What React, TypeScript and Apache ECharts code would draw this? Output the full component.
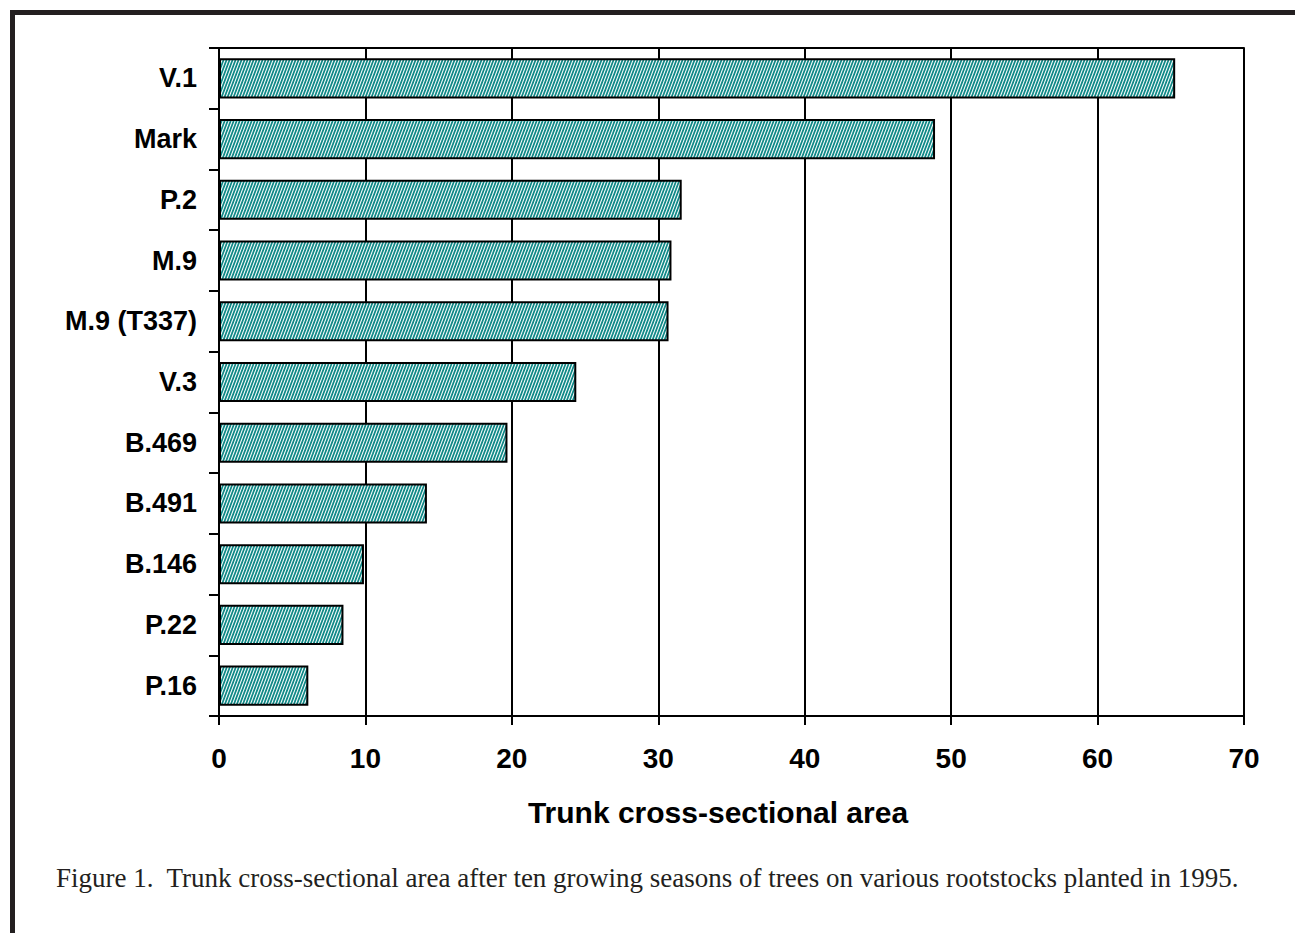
import React, { useEffect, useRef } from "react";
import * as echarts from "echarts";

const categories = ["V.1", "Mark", "P.2", "M.9", "M.9 (T337)", "V.3", "B.469", "B.491", "B.146", "P.22", "P.16"];
const values = [65.3, 48.9, 31.6, 30.9, 30.7, 24.4, 19.7, 14.2, 9.9, 8.5, 6.1];
const xTicks = [0, 10, 20, 30, 40, 50, 60, 70];
const axisTitle = "Trunk cross-sectional area";
const caption = "Figure 1.  Trunk cross-sectional area after ten growing seasons of trees on various rootstocks planted in 1995.";

function makePattern(): HTMLCanvasElement {
  const c = document.createElement("canvas");
  c.width = 3;
  c.height = 8;
  const ctx = c.getContext("2d")!;
  ctx.fillStyle = "#ffffff";
  ctx.fillRect(0, 0, 3, 8);
  ctx.strokeStyle = "#0e8886";
  ctx.lineWidth = 1.8;
  for (let k = -1; k <= 1; k++) {
    ctx.beginPath();
    ctx.moveTo(k * 3 - 0.75, 10);
    ctx.lineTo(k * 3 + 3.75, -2);
    ctx.stroke();
  }
  return c;
}

export default function App() {
  const ref = useRef<HTMLDivElement>(null);
  useEffect(() => {
    document.body.style.margin = "0";
    const chart = echarts.init(ref.current!, undefined, { renderer: "svg" });
    const pattern = makePattern();
    const bold = { fontFamily: "Liberation Sans, Arial, sans-serif", fontWeight: "bold" as const, color: "#000" };
    chart.setOption({
      animation: false,
      backgroundColor: "#fff",
      grid: { left: 219, right: 51, top: 48, bottom: 217, containLabel: false },
      xAxis: [
        {
          type: "value",
          min: xTicks[0],
          max: xTicks[xTicks.length - 1],
          interval: 10,
          axisLine: { show: true, lineStyle: { color: "#000", width: 2 } },
          axisTick: { show: true, length: 9, lineStyle: { color: "#000", width: 2 } },
          splitLine: { show: true, lineStyle: { color: "#000", width: 2 } },
          axisLabel: { ...bold, fontSize: 28, margin: 28 },
        },
        {
          type: "value",
          position: "top",
          min: xTicks[0],
          max: xTicks[xTicks.length - 1],
          interval: 10,
          axisLine: { show: true, lineStyle: { color: "#000", width: 2 } },
          axisTick: { show: false },
          axisLabel: { show: false },
          splitLine: { show: false },
        },
      ],
      yAxis: {
        type: "category",
        data: categories,
        inverse: true,
        axisLine: { show: true, lineStyle: { color: "#000", width: 2 } },
        axisTick: { show: true, length: 10, lineStyle: { color: "#000", width: 2 } },
        axisLabel: { ...bold, fontSize: 27, margin: 22 },
        splitLine: { show: false },
      },
      series: [
        {
          type: "bar",
          data: values,
          xAxisIndex: 0,
          barCategoryGap: "34%",
          itemStyle: {
            color: { image: pattern, repeat: "repeat" },
            borderColor: "#000",
            borderWidth: 2,
          },
        },
      ],
      graphic: [
        {
          type: "rect",
          shape: { x: 10, y: 10, width: 1300, height: 5 },
          style: { fill: "#231f20" },
        },
        {
          type: "rect",
          shape: { x: 10, y: 10, width: 5, height: 940 },
          style: { fill: "#231f20" },
        },
        {
          type: "text",
          x: 718,
          y: 812,
          style: {
            text: axisTitle,
            fontFamily: "Liberation Sans, Arial, sans-serif",
            fontWeight: "bold",
            fontSize: 30,
            fill: "#000",
            align: "center",
            verticalAlign: "middle",
          },
        },
        {
          type: "text",
          x: 56,
          y: 878,
          style: {
            text: caption,
            fontFamily: "Liberation Serif, Times New Roman, serif",
            fontSize: 27,
            fill: "#231f20",
            align: "left",
            verticalAlign: "middle",
          },
        },
      ],
    });
    return () => chart.dispose();
  }, []);
  return <div ref={ref} style={{ position: "fixed", left: 0, top: 0, width: 1295, height: 933 }} />;
}
